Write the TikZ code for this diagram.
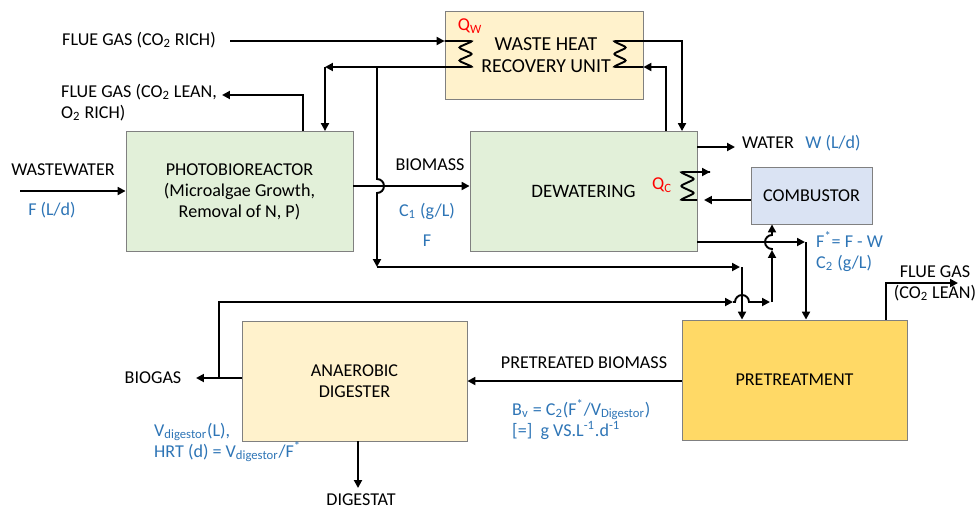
\documentclass[tikz,border=0pt]{standalone}
\usepackage{fontspec}
\setmainfont{Carlito}
\usetikzlibrary{arrows.meta}
\definecolor{boxgreen}{HTML}{E2F0D9}
\definecolor{boxcream}{HTML}{FFF2CC}
\definecolor{boxblue}{HTML}{DAE3F3}
\definecolor{boxgold}{HTML}{FFD966}
\definecolor{valblue}{HTML}{2E75B6}

\begin{document}
\begin{tikzpicture}[x=0.02cm,y=-0.02cm,font=\fontsize{10.3}{12}\selectfont,
  unit/.style={draw=black!50, line width=0.5pt, inner sep=0pt, align=center},
  flow/.style={line width=1.1pt, -{Triangle[length=4.5pt,width=4.5pt]}},
  pipe/.style={line width=1.1pt, rounded corners=1.5pt},
  val/.style={text=valblue}, heat/.style={text=red}]
\useasboundingbox (0,0) rectangle (980,511);
% units
\node[unit, fill=boxcream, minimum width=3.96cm, minimum height=1.76cm] (whr) at (544,55) {};
\node[align=center, font=\fontsize{11.3}{12.6}\selectfont] (whrtext) at (546,55) {WASTE HEAT\\RECOVERY UNIT};
\node[unit, fill=boxgreen, minimum width=4.54cm, minimum height=2.4cm] (pbr) at (239.5,191.5) {PHOTOBIOREACTOR\\(Microalgae Growth,\\Removal of N, P)};
\node[unit, fill=boxgreen, minimum width=4.54cm, minimum height=2.4cm, font=\fontsize{10.8}{12}\selectfont] (dew) at (583.5,191.5) {DEWATERING};
\node[unit, fill=boxblue, minimum width=2.42cm, minimum height=1.14cm] (comb) at (811.5,195.5) {COMBUSTOR};
\node[unit, fill=boxgold, minimum width=4.5cm, minimum height=2.4cm] (pre) at (794.5,380) {PRETREATMENT};
\node[unit, fill=boxcream, minimum width=4.5cm, minimum height=2.4cm] (dig) at (354.5,381) {ANAEROBIC\\DIGESTER};
% labels
\node (fgrich) at (139,40) {FLUE GAS (CO\textsubscript{2} RICH)};
\node[anchor=west, align=left] (fglean) at (55,102.5) {FLUE GAS (CO\textsubscript{2} LEAN,\\O\textsubscript{2} RICH)};
\node (ww) at (63,170) {WASTEWATER}; \node[val] (wwf) at (52,210) {F (L/d)};
\node (bm) at (430,165) {BIOMASS}; \node[val] (bmc) at (427,211) {C\textsubscript{1} (g/L)}; \node[val] (bmf) at (427,241) {F};
\node (water) at (768,143) {WATER}; \node[val] (waterw) at (833,143) {W (L/d)};
\node[heat] (qw) at (470,26) {Q\textsubscript{W}}; \node[heat] (qc) at (662,185) {Q\textsubscript{C}};
\node[val, anchor=west, align=left] (fstar) at (810,251.5) {F\textsuperscript{*}= F - W\\C\textsubscript{2} (g/L)};
\node[align=center] (fgout) at (935,283) {FLUE GAS\\(CO\textsubscript{2} LEAN)};
\node (biogas) at (153,378) {BIOGAS};
\node (ptb) at (584,363) {PRETREATED BIOMASS};
\node[val, anchor=west, align=left] (bv) at (506,419.5) {B\textsubscript{v} = C\textsubscript{2}(F\textsuperscript{*}/V\textsubscript{Digestor})\\{[=]}~~g VS.L\textsuperscript{-1}.d\textsuperscript{-1}};
\node[val, anchor=west, align=left] (hrt) at (148,442.5) {V\textsubscript{digestor}(L),\\HRT (d) = V\textsubscript{digestor}/F\textsuperscript{*}};
\node (digestat) at (361,500) {DIGESTAT};
% heat recovery loops
\coordinate (rich) at (230,41); \coordinate (ret) at (325,67); \coordinate (br) at (377,67);
\draw[flow] (rich) -- (whr.west |- rich);
\draw[pipe] (whr.west |- rich) -- (473,41) -- (458,47.5) -- (473,54) -- (458,60.5) -- (473,67) -- (whr.west |- ret);
\draw[flow] (whr.west |- ret) -- (ret);
\draw[flow] (ret) -- (pbr.north -| ret);
\draw[pipe] (whr.east |- rich) -- (613,41) -- (627,47.5) -- (613,54) -- (627,60.5) -- (613,67) -- (whr.east |- ret);
\coordinate (hot) at (682,41); \coordinate (cold) at (666,67);
\draw[flow] (whr.east |- hot) -- (hot) -- (dew.north -| hot);
\draw[flow] (dew.north -| cold) -- (cold) -- (whr.east |- cold);
\draw[pipe] (710,172) -- (680,172) -- (695,179) -- (680,186) -- (695,193) -- (680,200) -- (697,200);
\coordinate (qcout) at (710,172); \coordinate (qcin) at (704,200);
\draw[flow] (697,172) -- (qcout);
\draw[flow] (comb.west |- qcin) -- (qcin);
% main streams
\coordinate (wwin) at (20,191); \coordinate (bmy) at (0,186); \coordinate (lean) at (222,95);
\draw[flow] (wwin) -- (pbr.west |- wwin);
\draw[flow] (pbr.north -| 303,0) -- (303,95) -- (lean);
\draw[flow] (pbr.east |- bmy) -- (dew.west |- bmy);
\coordinate (down) at (377,267); \coordinate (mid) at (740,267);
\draw[flow] (br) -- (377,179) arc[start angle=-90, end angle=90, radius=7] -- (down);
\draw[flow] (down) -- (mid);
\draw[flow] (742,267) -- (pre.north -| 742,0);
\coordinate (wout) at (735,147);
\draw[flow] (dew.east |- wout) -- (wout);
\coordinate (dout) at (805,242);
\draw[flow] (dew.east |- dout) -- (dout);
\draw[flow] (806,242) -- (pre.north -| 806,0);
% biogas to combustor
\coordinate (bgout) at (196,378); \coordinate (bgup) at (219,302);
\draw[flow] (dig.west |- bgout) -- (bgout);
\draw[flow] (219,378) -- (bgup) -- (733,302);
\draw[flow] (733,302) -- (735,302) arc[start angle=180, end angle=360, radius=7] -- (770,302);
\draw[flow] (772,302) -- (772,250);
\draw[flow] (772,250) -- (772,249) arc[start angle=90, end angle=270, radius=7] -- (comb.south -| 772,0);
% pretreatment and digester
\coordinate (fgend) at (958,283);
\draw[flow] (pre.north -| 886,0) -- (886,283) -- (fgend);
\draw[flow] (pre.west |- 0,381) -- (dig.east |- 0,381);
\coordinate (dgend) at (358,488);
\draw[flow] (dig.south -| dgend) -- (dgend);
\end{tikzpicture}
\end{document}
